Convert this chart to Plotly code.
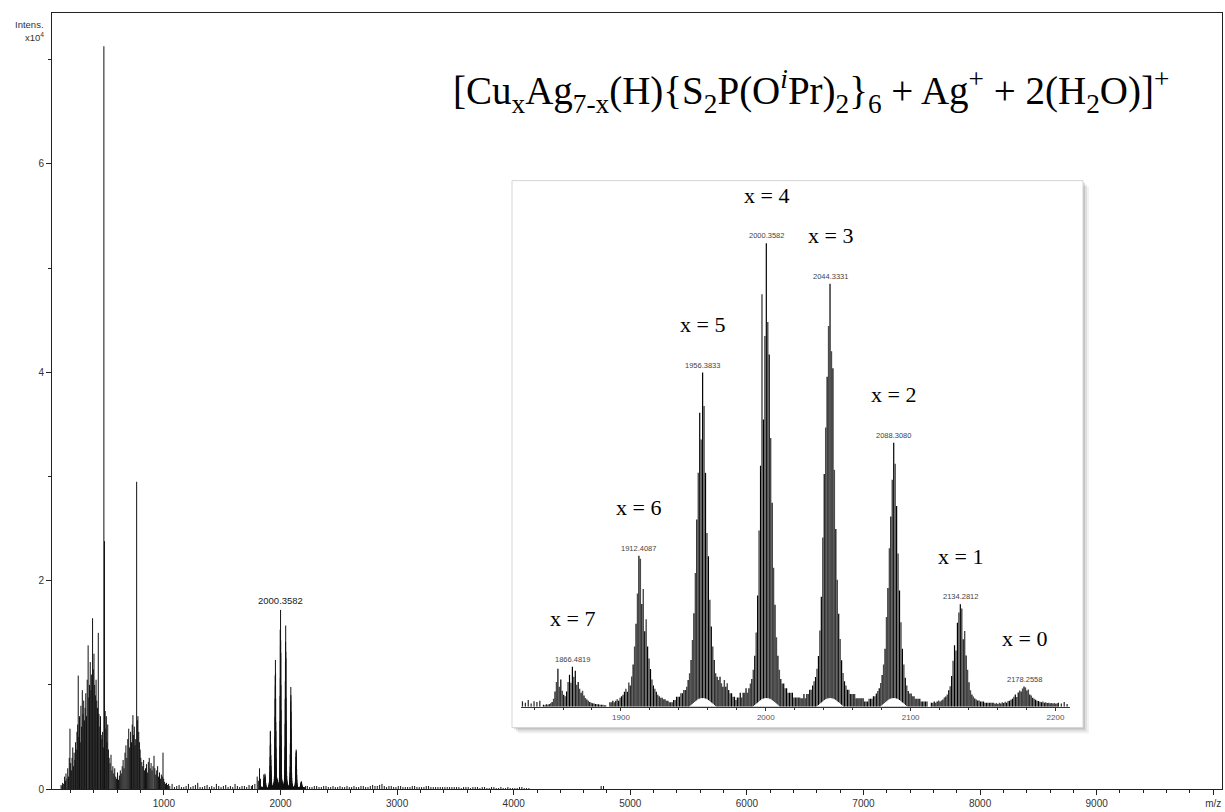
import plotly.graph_objects as go

# ---------------- spectrum data (intensity in units of 10^4) ----------------
low_mass_mz = [118, 126, 131, 140, 148, 155, 160, 168, 175, 182, 188, 194, 200, 206, 212, 218,
               224, 230, 236, 242, 248, 254, 260, 265, 270, 276, 282, 288, 294, 300, 306, 312,
               318, 324, 330, 336, 342, 350, 356, 362, 368, 374, 380, 388, 394, 400, 406, 412,
               418, 424, 430, 437, 443, 450, 456, 462, 468, 474, 480, 485, 490, 496, 502, 506,
               512, 518, 524, 530, 538, 546, 554, 562, 570, 578, 586, 594, 602, 610, 618, 626,
               634, 642, 650, 658, 666, 674, 682, 690, 698, 706, 714, 722, 728, 734, 740, 746,
               752, 758, 766, 772, 777, 784, 790, 796, 802, 810, 818, 826, 834, 842, 850, 858,
               866, 874, 882, 890, 898, 906, 915, 922, 930, 938, 946, 954, 962, 970, 978, 986,
               992, 998, 1006, 1014, 1022, 1030, 1040]
low_mass_int = [0.04, 0.03, 0.06, 0.05, 0.12, 0.08, 0.15, 0.10, 0.20, 0.12, 0.30, 0.58, 0.25, 0.18, 0.30, 0.40,
                0.22, 0.35, 0.28, 0.45, 0.38, 0.55, 0.62, 1.09, 0.50, 0.70, 0.45, 0.80, 0.60, 0.95, 0.72, 0.85,
                0.66, 0.78, 0.92, 0.70, 1.05, 1.38, 0.88, 1.00, 1.22, 0.95, 1.10, 1.64, 1.15, 1.30, 1.00, 0.90,
                1.05, 0.85, 0.78, 1.50, 0.72, 0.60, 0.70, 0.52, 0.48, 0.55, 0.40, 7.13, 2.38, 0.75, 0.58, 0.70,
                0.45, 0.62, 0.38, 0.30, 0.25, 0.33, 0.18, 0.22, 0.15, 0.20, 0.12, 0.10, 0.16, 0.09, 0.13, 0.18,
                0.15, 0.22, 0.28, 0.20, 0.35, 0.42, 0.30, 0.48, 0.58, 0.40, 0.55, 0.45, 0.62, 0.71, 0.52, 0.60,
                0.42, 0.48, 2.95, 0.66, 0.70, 0.55, 0.45, 0.38, 0.30, 0.26, 0.22, 0.28, 0.18, 0.20, 0.24, 0.16,
                0.26, 0.30, 0.20, 0.25, 0.18, 0.22, 0.32, 0.20, 0.14, 0.18, 0.22, 0.12, 0.16, 0.10, 0.14, 0.12,
                0.35, 0.10, 0.07, 0.05, 0.06, 0.04, 0.05]

noise_mz = [1050, 1070, 1090, 1110, 1130, 1150, 1170, 1190, 1210, 1230, 1250, 1270, 1290, 1310, 1330,
            1350, 1370, 1390, 1410, 1430, 1450, 1470, 1490, 1510, 1530, 1550, 1570, 1590, 1610, 1630,
            1650, 1670, 1690, 1710, 1730, 1750, 1760, 1780, 1800, 1810, 1820, 1828,
            2215, 2230, 2250, 2270, 2290, 2310, 2330, 2350, 2370, 2390, 2410, 2430, 2450, 2470, 2490,
            2510, 2530, 2550, 2570, 2590, 2610, 2630, 2650, 2670, 2690, 2710, 2730, 2750, 2770, 2790,
            2810, 2830, 2850, 2870, 2890, 2910, 2930, 2950, 2970, 2990, 3010, 3030, 3050, 3070, 3090,
            3110, 3130, 3150, 3170, 3190, 3210, 3230, 3250, 3270, 3290, 3310, 3330, 3350, 3370, 3390,
            3410, 3430, 3450, 3470, 3490, 3510, 3530, 3550, 3570, 3590, 3610, 3630, 3650, 3670, 3690,
            3710, 3730, 3750, 3770, 3790, 3810, 3830, 3850, 3870, 3890, 3910, 3930, 3950, 3970, 3990,
            4010, 4030, 4050, 4070, 4090, 4110, 4130, 4750, 4770]
noise_int = [0.03, 0.05, 0.02, 0.03, 0.04, 0.02, 0.02, 0.03, 0.05, 0.02, 0.03, 0.04, 0.06, 0.02, 0.02,
             0.03, 0.04, 0.02, 0.03, 0.02, 0.05, 0.03, 0.02, 0.03, 0.04, 0.02, 0.03, 0.02, 0.05, 0.03,
             0.02, 0.03, 0.03, 0.02, 0.04, 0.03, 0.04, 0.05, 0.12, 0.08, 0.20, 0.10,
             0.03, 0.03, 0.02, 0.02, 0.03, 0.03, 0.02, 0.02, 0.03, 0.03, 0.02, 0.02, 0.03, 0.02, 0.02,
             0.03, 0.02, 0.02, 0.03, 0.02, 0.02, 0.03, 0.02, 0.02, 0.03, 0.03, 0.02, 0.02, 0.03, 0.04,
             0.03, 0.03, 0.04, 0.05, 0.03, 0.02, 0.03, 0.03, 0.02, 0.02, 0.03, 0.03, 0.02, 0.02, 0.02,
             0.02, 0.03, 0.03, 0.02, 0.02, 0.02, 0.02, 0.03, 0.03, 0.02, 0.02, 0.02, 0.02, 0.02, 0.02,
             0.02, 0.02, 0.02, 0.02, 0.02, 0.02, 0.02, 0.01, 0.02, 0.02, 0.02, 0.01, 0.02, 0.02, 0.02,
             0.01, 0.02, 0.02, 0.01, 0.01, 0.02, 0.02, 0.01, 0.01, 0.02, 0.01, 0.01, 0.02, 0.01, 0.01,
             0.01, 0.01, 0.02, 0.02, 0.01, 0.01, 0.01, 0.03, 0.03]

# isotope clusters of [CuxAg7-x(H){S2P(OiPr)2}6 + Ag + 2(H2O)]+
cluster_mz = [1866.4819, 1912.4087, 1956.3833, 2000.3582, 2044.3331, 2088.3080, 2134.2812, 2178.2558]
cluster_x = [7, 6, 5, 4, 3, 2, 1, 0]
cluster_max = [0.148, 0.56, 1.24, 1.72, 1.57, 0.98, 0.38, 0.075]
iso_offsets = [-20, -19, -18, -17, -16, -15, -14, -13, -12, -11, -10, -9, -8, -7, -6, -5, -4, -3, -2, -1,
               0, 1, 2, 3, 4, 5, 6, 7, 8, 9, 10, 11, 12, 13, 14, 15, 16, 17, 18, 19, 20, 21, 22, 23]
cluster_pct = [
    [5, 4, 6, 5, 7, 9, 12, 20, 38, 62, 95, 50, 68, 40, 30, 26, 38, 62, 80, 60,
     100, 75, 90, 55, 62, 45, 35, 40, 28, 22, 18, 15, 12, 10, 9, 8, 7, 6, 6, 5, 5, 5, 4, 4],
    [3, 3, 4, 3, 4, 5, 4, 6, 7, 8, 10, 12, 10, 16, 14, 20, 28, 40, 55, 75,
     100, 98, 68, 78, 50, 58, 40, 32, 25, 18, 14, 12, 10, 8, 7, 6, 6, 5, 5, 4, 4, 3, 3, 3],
    [2, 2, 3, 3, 3, 4, 4, 5, 5, 6, 8, 10, 14, 20, 28, 40, 56, 70, 88, 80,
     100, 90, 70, 52, 45, 32, 24, 18, 14, 10, 9, 8, 9, 7, 6, 8, 6, 7, 5, 4, 4, 3, 3, 2],
    [2, 2, 3, 2, 3, 3, 4, 3, 4, 5, 6, 8, 11, 16, 24, 38, 52, 89, 62, 80,
     100, 83, 76, 58, 44, 30, 22, 15, 11, 8, 6, 5, 5, 4, 4, 3, 3, 3, 3, 2, 2, 2, 2, 2],
    [2, 2, 3, 2, 3, 3, 4, 4, 5, 6, 7, 9, 12, 18, 26, 40, 55, 66, 78, 90,
     100, 84, 80, 56, 42, 30, 22, 16, 11, 8, 6, 5, 4, 4, 3, 3, 3, 3, 2, 2, 2, 2, 2, 2],
    [2, 2, 2, 3, 3, 3, 4, 4, 5, 6, 7, 9, 12, 16, 22, 34, 45, 60, 72, 86,
     100, 92, 76, 58, 44, 32, 22, 16, 11, 8, 6, 5, 5, 4, 4, 3, 3, 3, 3, 2, 2, 2, 2, 2],
    [4, 4, 5, 4, 5, 6, 5, 6, 7, 9, 10, 12, 16, 20, 30, 45, 60, 55, 82, 92,
     100, 96, 66, 74, 50, 36, 24, 16, 12, 10, 8, 7, 6, 6, 5, 5, 5, 4, 4, 4, 4, 4, 4, 4],
    [15, 18, 14, 20, 16, 22, 18, 25, 20, 28, 30, 35, 40, 50, 60, 48, 70, 80, 75, 90,
     100, 95, 80, 85, 60, 55, 45, 40, 35, 30, 28, 25, 22, 26, 20, 22, 18, 20, 17, 19, 16, 18, 15, 17],
]
edge_mz = [1832, 1834, 1836, 1838, 1840, 1842, 1844, 2202, 2204, 2206, 2208]
edge_int = [0.020, 0.015, 0.025, 0.012, 0.020, 0.018, 0.022, 0.015, 0.012, 0.018, 0.010]

# light envelope traces at the base of the four strongest clusters (x = 5 .. 2)
envelope_centers = [1956.3833, 2000.3582, 2044.3331, 2088.3080]
envelope_offsets = [-9, -7, -5, -3, -1, 1, 3, 5, 7, 9]
envelope_int = [0.0, 0.010, 0.020, 0.027, 0.030, 0.030, 0.027, 0.020, 0.010, 0.0]

# axis ticks
main_xticks = [1000, 2000, 3000, 4000, 5000, 6000, 7000, 8000, 9000, 10000]
main_xticktext = ["1000", "2000", "3000", "4000", "5000", "6000", "7000", "8000", "9000", "m/z"]
main_yticks = [0, 2, 4, 6]
inset_xticks = [1900, 2000, 2100, 2200]


def sticks(xs, ys):
    X, Y = [], []
    for x, y in zip(xs, ys):
        X += [x, x, None]
        Y += [0, y, None]
    return X, Y


# expand the isotope clusters into individual peaks
iso_mz_even, iso_int_even, iso_mz_odd, iso_int_odd = [], [], [], []
for c, m, pct in zip(cluster_mz, cluster_max, cluster_pct):
    for off, p in zip(iso_offsets, pct):
        if off % 2 == 0:
            iso_mz_even.append(c + off)
            iso_int_even.append(m * p / 100.0)
        else:
            iso_mz_odd.append(c + off)
            iso_int_odd.append(m * p / 100.0)

all_mz = low_mass_mz + noise_mz + edge_mz + iso_mz_even + iso_mz_odd
all_int = low_mass_int + noise_int + edge_int + iso_int_even + iso_int_odd

fig = go.Figure()

mx, my = sticks(all_mz, all_int)
fig.add_trace(go.Scatter(x=mx, y=my, mode="lines", line=dict(color="#111111", width=1),
                         xaxis="x", yaxis="y", hoverinfo="skip"))

# inset: expanded view of the cluster region
ex, ey = sticks(edge_mz, edge_int)
fig.add_trace(go.Scatter(x=ex, y=ey, mode="lines", line=dict(color="#222222", width=1.2),
                         xaxis="x2", yaxis="y2", hoverinfo="skip"))
ox, oy = sticks(iso_mz_odd, iso_int_odd)
fig.add_trace(go.Scatter(x=ox, y=oy, mode="lines", line=dict(color="#4a4a4a", width=1.4),
                         xaxis="x2", yaxis="y2", hoverinfo="skip"))
vx, vy = sticks(iso_mz_even, iso_int_even)
fig.add_trace(go.Scatter(x=vx, y=vy, mode="lines", line=dict(color="#000000", width=1.2),
                         xaxis="x2", yaxis="y2", hoverinfo="skip"))

for c in envelope_centers:
    fig.add_trace(go.Scatter(x=[c + o for o in envelope_offsets], y=envelope_int, mode="lines",
                             fill="toself", fillcolor="white", line=dict(color="white", width=1),
                             xaxis="x2", yaxis="y2", hoverinfo="skip"))

W, H = 1225, 812
px = lambda v: v / W
py = lambda v: (H - v) / H

shapes = []
# drop shadow and frame of the inset
for d, a in [(6, 0.05), (4, 0.08), (2, 0.12)]:
    shapes.append(dict(type="rect", xref="paper", yref="paper", layer="below",
                       x0=px(512 + d), x1=px(1083 + d), y0=py(733 + d), y1=py(182 + d),
                       line=dict(width=0), fillcolor=f"rgba(0,0,0,{a})"))
shapes.append(dict(type="rect", xref="paper", yref="paper", layer="below",
                   x0=px(512), x1=px(1083), y0=py(733), y1=py(182),
                   line=dict(color="#d5d5d5", width=1), fillcolor="white"))

annotations = [
    dict(text="Intens.", xref="paper", yref="paper", x=px(46), y=py(17), xanchor="right",
         showarrow=False, font=dict(family="Liberation Sans", size=9.5, color="#333")),
    dict(text="x10<sup>4</sup>", xref="paper", yref="paper", x=px(46), y=py(29), xanchor="right",
         showarrow=False, font=dict(family="Liberation Sans", size=9.5, color="#333")),
    dict(text="[Cu<sub>x</sub>Ag<sub>7-x</sub>(H){S<sub>2</sub>P(O<sup><i>i</i></sup>Pr)<sub>2</sub>}<sub>6</sub>"
              " + Ag<sup>+</sup> + 2(H<sub>2</sub>O)]<sup>+</sup>",
         xref="paper", yref="paper", x=px(811), y=py(62), showarrow=False,
         font=dict(family="Liberation Serif", size=39, color="black")),
    dict(text="2000.3582", xref="x", yref="y", x=2000.3582, y=1.72, yanchor="bottom", yshift=2,
         showarrow=False, font=dict(family="Liberation Sans", size=9.5, color="#222")),
]
for c, m, n in zip(cluster_mz, cluster_max, cluster_x):
    annotations.append(dict(text=f"{c:.4f}", xref="x2", yref="y2", x=c, y=m, yanchor="bottom",
                            yshift=1, showarrow=False,
                            font=dict(family="Liberation Sans", size=7.5, color="#444")))
    annotations.append(dict(text=f"x = {n}", xref="x2", yref="y2", x=c, y=m, yanchor="middle",
                            yshift=48, showarrow=False,
                            font=dict(family="Liberation Serif", size=22, color="black")))

main_minor = [v for v in range(200, 10001, 200) if v % 1000 != 0]
inset_minor = [v for v in range(1840, 2210, 20) if v % 100 != 0]

fig.update_layout(
    width=W, height=H, margin=dict(l=0, r=0, t=0, b=0),
    paper_bgcolor="white", plot_bgcolor="rgba(0,0,0,0)", showlegend=False,
    shapes=shapes, annotations=annotations,
    xaxis=dict(domain=[px(52), px(1222)], range=[40, 10075], showline=True, mirror=True,
               linecolor="#222", linewidth=1, ticks="outside", ticklen=5, tickcolor="#222",
               tickvals=main_xticks, ticktext=main_xticktext, showgrid=False, zeroline=False,
               tickfont=dict(family="Liberation Sans", size=10, color="#333"),
               minor=dict(tickvals=main_minor, ticks="outside", ticklen=3, tickcolor="#222")),
    yaxis=dict(domain=[(H - 795) / H, (H - 13) / H], range=[0, 7.45], showline=True, mirror=True,
               linecolor="#222", linewidth=1, ticks="outside", ticklen=5, tickcolor="#222",
               tickvals=main_yticks, showgrid=False, zeroline=False,
               tickfont=dict(family="Liberation Sans", size=10, color="#333"),
               minor=dict(tickvals=[1, 3, 5, 7], ticks="outside", ticklen=3, tickcolor="#222")),
    xaxis2=dict(domain=[px(521), px(1070)], range=[1831, 2210], anchor="y2", showline=True,
                linecolor="#333", linewidth=1, ticks="outside", ticklen=3, tickcolor="#333",
                tickvals=inset_xticks, showgrid=False, zeroline=False,
                tickfont=dict(family="Liberation Sans", size=8, color="#555"),
                minor=dict(tickvals=inset_minor, ticks="outside", ticklen=2, tickcolor="#333")),
    yaxis2=dict(domain=[(H - 712) / H, (H - 200) / H], range=[0, 1.886], anchor="x2",
                visible=False),
)

fig.write_html("out.html")
